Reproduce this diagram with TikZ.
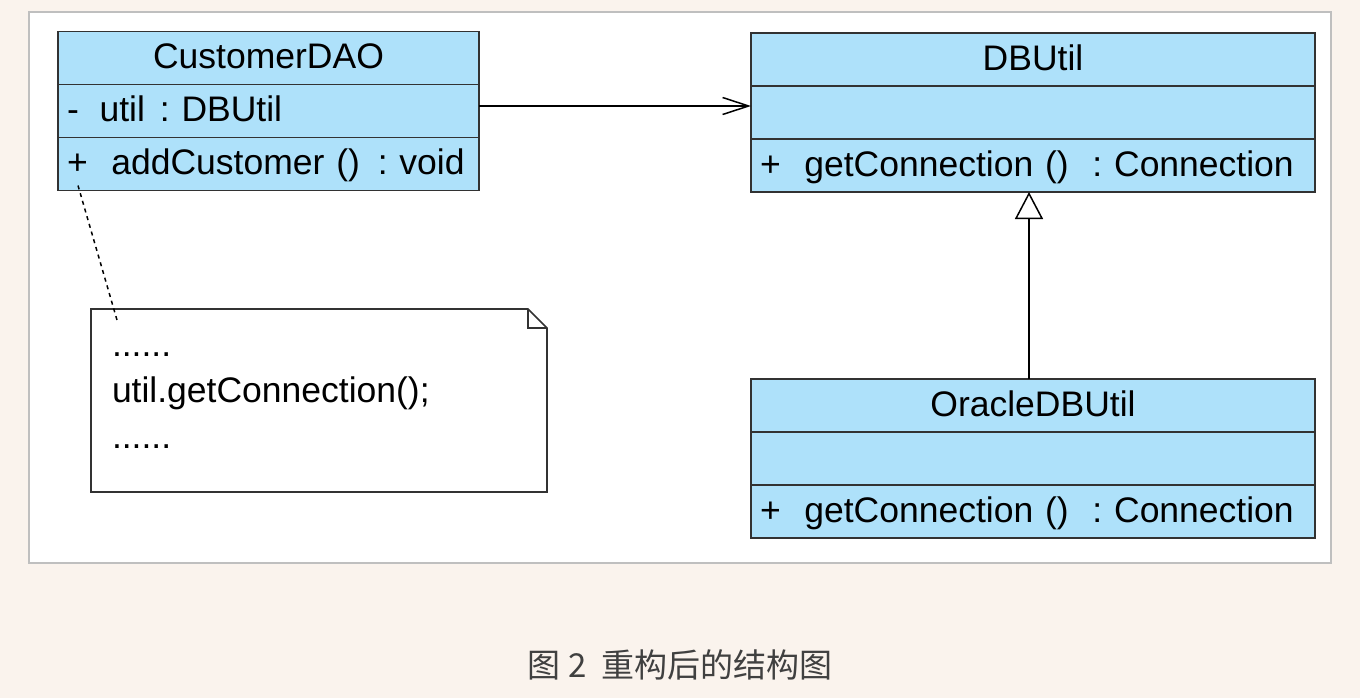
\documentclass[tikz,border=0pt]{standalone}
\usepackage{fontspec}
\setmainfont{Liberation Sans}
\newfontfamily\cjk{Noto Sans CJK SC}
\usepackage{tikz}
\usetikzlibrary{arrows.meta}
\usetikzlibrary{positioning}
\definecolor{classblue}{RGB}{174,225,250}
\definecolor{paper}{RGB}{250,243,237}
\definecolor{boxline}{RGB}{50,50,50}

\begin{document}
\begin{tikzpicture}[x=1pt,y=1pt,font=\fontsize{35.5pt}{46pt}\selectfont,
  class head/.style={rectangle,draw=boxline,fill=classblue,line width=1.6pt,outer sep=0pt,
    inner xsep=9pt,minimum width=#1,minimum height=53pt,text height=26pt,text depth=4pt},
  class row/.style={rectangle,draw=boxline,fill=classblue,line width=1.6pt,outer sep=0pt,
    inner xsep=9pt,text width=#1,align=left,minimum height=53pt,text height=26pt,text depth=4pt},
  note node/.style={rectangle,outer sep=0pt,inner xsep=21pt,minimum width=456pt,
    minimum height=183pt,text width=414pt,align=left},
  note line/.style={draw=boxline,line width=1.6pt,line join=miter},
  note link/.style={line width=1.5pt,dash pattern=on 4pt off 4pt},
  uses/.style={line width=1.5pt,-{Straight Barb[length=26pt,width=17pt]}},
  extends/.style={line width=1.5pt,-{Triangle[open,length=27pt,width=28pt,fill=white]}}]

  \fill[paper] (0,0) rectangle (1360,-698);
  \useasboundingbox (0,0) rectangle (1360,-698);
  \draw[draw=black!25,line width=1.5pt,fill=white] (29,-12) rectangle (1331,-563);

  \node[class head=421pt] (dao) at (268.5,-58) {CustomerDAO};
  \node[class row=403pt] (daoa) [below=0pt of dao] {\mbox{-~\kern9pt util~\kern3pt:~DBUtil}};
  \node[class row=403pt] (daoo) [below=0pt of daoa] {\mbox{+~~addCustomer~()~\kern6pt:~void}};

  \node[class head=564pt] (db) at (1033,-59.5) {DBUtil};
  \node[class row=546pt] (dba) [below=0pt of db] {};
  \node[class row=546pt] (dbo) [below=0pt of dba] {\mbox{+~~getConnection~()~~:~Connection}};

  \node[class head=564pt] (ora) [below=187pt of dbo] {OracleDBUtil};
  \node[class row=546pt] (oraa) [below=0pt of ora] {};
  \node[class row=546pt] (orao) [below=0pt of oraa] {\mbox{+~~getConnection~()~~:~Connection}};

  \node[note node] (note) at (319,-400.5) {......\\util.getConnection();\\......};
  \draw[note line] (note.north west) -- ([xshift=-19pt]note.north east)
    -- ([yshift=-19pt]note.north east) -- (note.south east) -- (note.south west) -- cycle;
  \draw[note line] ([xshift=-19pt]note.north east) |- ([yshift=-19pt]note.north east);

  \draw[uses] ([yshift=5pt]daoa.east) -- ([yshift=5pt]daoa.east -| dba.west);
  \draw[extends] ([xshift=-4pt]ora.north) -- ([xshift=-4pt]dbo.south);
  \draw[note link] ([xshift=20pt,yshift=5pt]daoo.south west) -- ([xshift=26pt,yshift=-11pt]note.north west);

  \node[text=black!75,font=\cjk\fontsize{33pt}{38pt}\selectfont] (cap) at (680,-665) {图 2\ \ 重构后的结构图};
\end{tikzpicture}
\end{document}
